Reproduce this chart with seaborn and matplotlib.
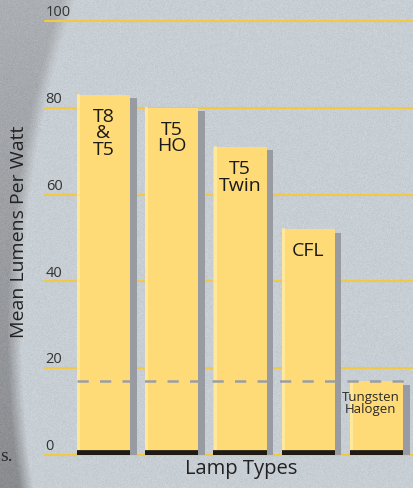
import numpy as np
import pandas as pd
import matplotlib
matplotlib.use("Agg")
import matplotlib.pyplot as plt
import matplotlib.transforms as mtransforms
from matplotlib import patheffects as pe
import seaborn as sns

# data
lamps = ["T8\n&\nT5", "T5\nHO", "T5\nTwin", "CFL", "Tungsten\nHalogen"]
lumens = [83, 80, 71, 52, 17]
yticks = [0, 20, 40, 60, 80, 100]
halogen_level = 17

sns.set_theme(style="white")
plt.rcParams["font.family"] = ["Open Sans", "DejaVu Sans"]

W, H = 413, 489
fig = plt.figure(figsize=(W / 100, H / 100), dpi=100)

# textured-paper background with darker page edge on the left
bg = fig.add_axes([0, 0, 1, 1], zorder=-10)
yy, xx = np.mgrid[0:H, 0:W]
dist = np.hypot(xx - 1048, yy - 330) - 1035
t = np.clip((-dist + 6) / 14, 0, 1)
inner = np.array([0xC7, 0xCE, 0xD4]) / 255
outer_top = np.array([0xAC, 0xAF, 0xB3]) / 255
outer_bot = np.array([0x8A, 0x8C, 0x8F]) / 255
vy = (yy / H)[..., None]
outer = outer_top * (1 - vy) + outer_bot * vy
img = outer * (1 - t[..., None]) + inner * t[..., None]
rng = np.random.default_rng(3)
img = np.clip(img + rng.normal(0, 0.012, img.shape[:2])[..., None], 0, 1)
bg.imshow(img, aspect="auto", extent=[0, W, H, 0])
bg.axis("off")

ax = fig.add_axes([45 / W, 33 / H, 368 / W, 434 / H])
ax.patch.set_alpha(0)

df = pd.DataFrame({"lamp": lamps, "lumens": lumens})

for v in yticks:
    ax.axhline(v, color="#F3C845", lw=1.5, zorder=1, clip_on=False)

sns.barplot(data=df, x="lamp", y="lumens", color="#FFDB78", saturation=1,
            width=0.78, linewidth=0, edgecolor="none", ax=ax, zorder=3)

for p, lab in zip(ax.patches, lamps):
    p.set_path_effects([pe.SimplePatchShadow(offset=(4.8, -2.5),
                                             shadow_rgbFace="#989CA2", alpha=1),
                        pe.Normal()])
    x0, w, h = p.get_x(), p.get_width(), p.get_height()
    ax.plot([x0 + 0.02, x0 + 0.02], [0, h], color="#FFE79C", lw=2.2, zorder=4)
    ax.plot([x0, x0 + w], [0, 0], color="#1E1A14", lw=7, zorder=5,
            solid_capstyle="butt")
    small = lab.startswith("Tungsten")
    ax.annotate(lab, (x0 + w / 2, h), xytext=(-4 if small else 0, -6 if small else -8.5),
                textcoords="offset points", ha="center", va="top",
                fontsize=9.5 if small else 14, linespacing=0.9 if small else 0.92,
                color="#2A2A2A" if small else "#1A1A1A", zorder=8)

# dashed reference line at the halogen level, drawn over the bars
ax.axhline(halogen_level, xmin=(77 - 45) / 368, xmax=1, color="#9A9EA4",
           lw=1.8, ls=(0, (4.5, 4.5)), zorder=7)

ax.set_xlim(-0.858, 4.538)
ax.set_ylim(0, 100)
ax.set_yticks(yticks)
ax.set_yticklabels([])
ax.set_xticks([])
ax.tick_params(length=0)
for s in ax.spines.values():
    s.set_visible(False)

trans = mtransforms.blended_transform_factory(ax.transAxes, ax.transData)
for v in yticks:
    ax.text(0.002, v + 0.4, str(v), transform=trans, ha="left", va="bottom",
            fontsize=10.5, color="#333333")

ax.set_ylabel("Mean Lumens Per Watt", fontsize=14, color="#222222")
ax.yaxis.set_label_coords(-(45 - 28) / 368, 0.516)
ax.set_xlabel("Lamp Types", fontsize=14.5, color="#222222")
ax.xaxis.set_label_coords(0.533, -0.006)

fig.text(0.001, 0.058, "s.", fontsize=14, color="#2A2A2A",
         family=["Liberation Serif", "DejaVu Serif"])

fig.savefig("out.png", dpi=100)
